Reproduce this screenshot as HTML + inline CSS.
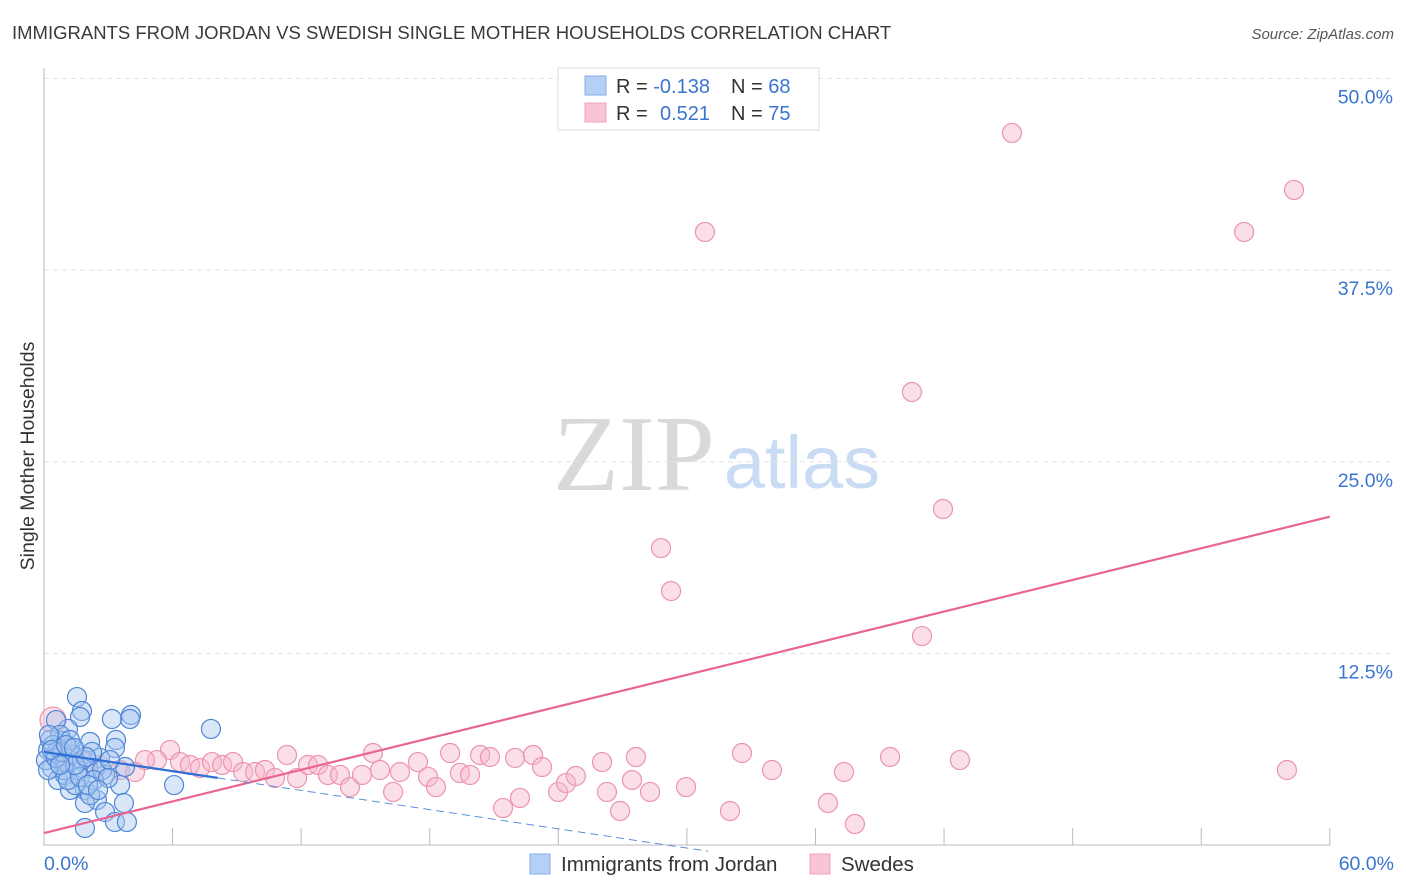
<!DOCTYPE html>
<html><head><meta charset="utf-8"><style>
body{margin:0;background:#fff;font-family:"Liberation Sans",sans-serif}
svg{display:block}
</style></head><body>
<svg id="chart" width="1406" height="892">
<text x="12" y="39" font-size="18.5" fill="#3a3a3a">IMMIGRANTS FROM JORDAN VS SWEDISH SINGLE MOTHER HOUSEHOLDS CORRELATION CHART</text>
<text x="1394" y="39" font-size="15" fill="#555" font-style="italic" text-anchor="end">Source: ZipAtlas.com</text>
<text x="634" y="490" font-size="108" fill="#d9d9d9" font-family="Liberation Serif,serif" text-anchor="middle">ZIP</text>
<text x="802" y="488" font-size="74" fill="#c9dcf3" text-anchor="middle">atlas</text>
<text transform="translate(34,456) rotate(-90)" font-size="19.5" fill="#333" text-anchor="middle">Single Mother Households</text>
<g id="grid"></g><g id="axes"></g><g id="pts"></g><g id="lines"></g>
<g>
<rect x="558" y="68" width="261" height="62" fill="#fff" stroke="#ddd"/>
<rect x="585" y="76" width="21" height="19" fill="#b5d0f5" stroke="#84aee8"/>
<rect x="585" y="103" width="21" height="19" fill="#f9c4d3" stroke="#f0a4bc"/>
<text x="616" y="93" font-size="20" fill="#333">R = <tspan fill="#3a75d0">-0.138</tspan><tspan x="731">N = </tspan><tspan fill="#3a75d0">68</tspan></text>
<text x="616" y="120" font-size="20" fill="#333">R = <tspan x="660" fill="#3a75d0">0.521</tspan><tspan x="731">N = </tspan><tspan fill="#3a75d0">75</tspan></text>
</g>
<g>
<rect x="530" y="854" width="20" height="20" fill="#b5d0f5" stroke="#84aee8"/>
<text x="561" y="871" font-size="20.5" fill="#333">Immigrants from Jordan</text>
<rect x="810" y="854" width="20" height="20" fill="#f9c4d3" stroke="#f0a4bc"/>
<text x="841" y="871" font-size="20.5" fill="#333">Swedes</text>
</g>
</svg>
<script>
const yTicks=[12.5,25,37.5,50];
const yTickLabels=["12.5%","25.0%","37.5%","50.0%"];
const xTickLabels=["0.0%","60.0%"];
const jordanX=[1.54,1.77,1.68,4.06,4.01,3.17,7.79,1.12,0.56,0.84,2.15,3.36,1.21,3.31,2.61,3.78,0.75,0.19,0.37,2.05,2.85,3.55,6.07,1.91,1.21,2.47,1.91,3.73,2.85,3.31,3.87,1.91,0.65,0.98,1.45,2.15,0.51,1.03,1.59,2.38,0.28,0.75,1.31,1.77,0.65,0.93,0.09,0.42,2.24,2.71,1.12,1.68,3.08,0.19,0.56,1.45,1.96,0.84,0.23,1.21,2.33,2.99,0.37,1.03,0.75,1.4,2.05,2.52];
const jordanY=[9.65,8.74,8.35,8.48,8.22,8.22,7.57,7.57,8.15,6.78,6.72,6.85,6.33,6.33,5.68,5.09,5.54,6.2,5.02,5.02,4.57,3.91,3.91,3.59,3.59,2.94,2.74,2.74,2.15,1.5,1.5,1.11,4.24,4.57,3.91,3.26,5.87,5.41,4.89,5.02,6.85,7.18,5.87,5.54,6.33,4.89,5.54,6.52,6.07,4.89,4.24,4.44,5.54,4.89,5.68,5.22,5.74,6.07,7.18,6.85,4.24,4.37,6.2,6.52,5.22,6.33,3.91,3.59];
const swedesX=[0.42,5.88,5.27,4.71,6.35,6.81,7.28,7.84,8.31,8.82,9.29,9.85,10.31,10.78,11.34,11.81,12.32,12.79,13.25,13.81,14.28,14.84,15.35,15.68,16.29,16.61,17.45,17.92,18.29,18.95,19.41,19.88,20.35,20.81,21.42,21.98,22.21,22.82,23.24,23.99,24.36,24.82,26.04,26.27,26.88,27.44,27.62,28.28,29.96,32.01,32.57,33.97,36.58,37.33,37.84,39.48,42.74,58.0,30.84,45.17,56.0,58.33,40.5,41.95,28.79,29.26,40.97,2.61,3.55,4.25,2.05,0.75,1.21];
const swedesY=[8.15,6.2,5.54,5.54,5.41,5.22,5.02,5.41,5.22,5.41,4.76,4.76,4.89,4.37,5.87,4.37,5.22,5.22,4.57,4.57,3.78,4.57,6.0,4.89,3.46,4.76,5.41,4.44,3.78,6.0,4.7,4.57,5.87,5.74,2.41,5.68,3.07,5.87,5.09,3.46,4.04,4.5,5.41,3.46,2.22,4.24,5.74,3.46,3.78,2.22,6.0,4.89,2.74,4.76,1.37,5.74,5.54,4.89,39.99,46.45,39.99,42.73,29.55,21.92,19.37,16.57,13.63,5.22,4.89,4.76,5.41,6.2,5.87];
const jordanTrend=[6.07,-0.209];
const swedesTrend=[0.78,0.344];
const NS="http://www.w3.org/2000/svg";
const X=v=>44+v*21.43, Y=v=>845-v*15.33;
function mk(t,a,p){const e=document.createElementNS(NS,t);for(const k in a)e.setAttribute(k,a[k]);p.appendChild(e);return e;}
const grid=document.getElementById('grid'),axes=document.getElementById('axes'),pts=document.getElementById('pts'),lines=document.getElementById('lines');
yTicks.forEach((t,i)=>{
 const l=mk('line',{x1:44,x2:1394,y1:Y(t),y2:Y(t),stroke:'#e2e2e2','stroke-dasharray':'5,4'},grid);
 
 
 const tx=mk('text',{x:1393,y:Y(t)+25,'font-size':19.5,fill:'#3a75d0','text-anchor':'end'},axes);
 tx.textContent=yTickLabels[i];
 
 
});
const ax=mk('path',{d:'M44,68V845H1330',stroke:'#bbb',fill:'none'},axes);


for(let i=1;i<=10;i++){const tk=mk('line',{x1:X(i*6),x2:X(i*6),y1:828,y2:845,stroke:'#bbb'},axes);
 
 }
const xl0=mk('text',{x:44,y:870,'font-size':19.5,fill:'#3a75d0'},axes);xl0.textContent=xTickLabels[0];


const xl1=mk('text',{x:1394,y:870,'font-size':19.5,fill:'#3a75d0','text-anchor':'end'},axes);xl1.textContent=xTickLabels[1];


swedesX.forEach((x,i)=>{const c=mk('circle',{cx:X(x),cy:Y(swedesY[i]),r:i===0?13:9.5,fill:'#f7b9cb','fill-opacity':0.45,stroke:'#ec93af','stroke-width':1.2},pts);
 
 });
jordanX.forEach((x,i)=>{const c=mk('circle',{cx:X(x),cy:Y(jordanY[i]),r:9.5,fill:'#a9c8f0','fill-opacity':0.45,stroke:'#4f86d8','stroke-width':1.2},pts);
 
 });
const pl=mk('line',{x1:X(0),y1:Y(swedesTrend[0]),x2:X(60),y2:Y(swedesTrend[0]+60*swedesTrend[1]),stroke:'#e86592','stroke-width':2.2},lines);


const bl=mk('line',{x1:X(0),y1:Y(jordanTrend[0]),x2:X(8.1),y2:Y(jordanTrend[0]+8.1*jordanTrend[1]),stroke:'#2f6fd6','stroke-width':2.2},lines);


const bd=mk('line',{x1:X(8.1),y1:Y(jordanTrend[0]+8.1*jordanTrend[1]),x2:X(31),y2:Y(jordanTrend[0]+31*jordanTrend[1]),stroke:'#5b8fdc','stroke-width':1,'stroke-dasharray':'8,5'},lines);


</script>
</body></html>
